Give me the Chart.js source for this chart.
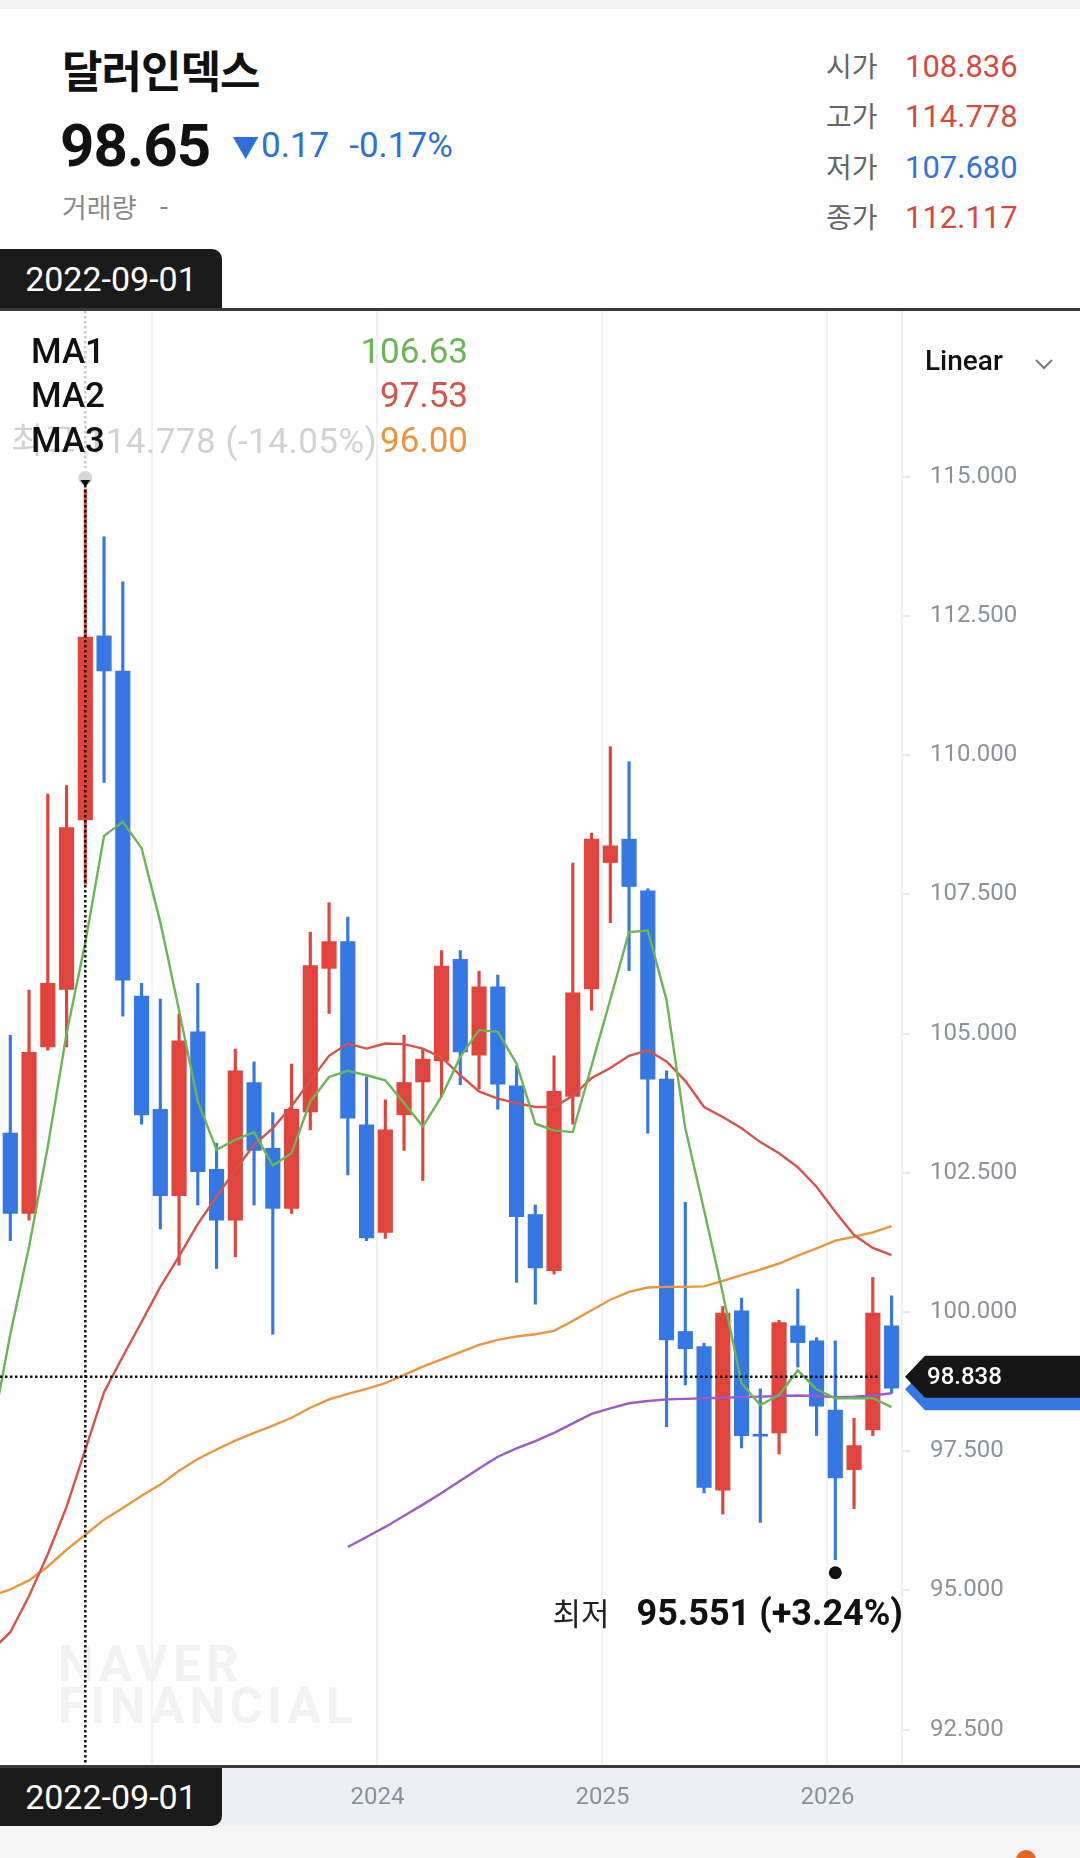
<!DOCTYPE html>
<html lang="ko">
<head>
<meta charset="utf-8">
<title>달러인덱스</title>
<script src="https://cdn.jsdelivr.net/npm/chart.js@4.4.1/dist/chart.umd.min.js"></script>
<style>
  html, body { margin: 0; padding: 0; }
  body {
    width: 1080px; height: 1858px; position: relative; overflow: hidden; background: #fff;
    font-family: Roboto, "Noto Sans CJK KR", sans-serif; color: #111;
  }
  .abs { position: absolute; white-space: nowrap; }
  #topbar { left: 0; top: 0; width: 1080px; height: 9px; background: #f3f3f4; }
  #title { left: 62px; top: 47px; font-size: 44px; font-weight: 700; line-height: 1;
           font-family: "Noto Sans CJK KR", sans-serif; letter-spacing: -1px; }
  #price { left: 60px; top: 116px; font-size: 60px; font-weight: 700; line-height: 1; letter-spacing: -1px; }
  #change { left: 232px; top: 128px; font-size: 35px; line-height: 1; color: #2f6fd8; }
  #change .tri { font-size: 27px; margin-right: 2px; }
  #change .pct { margin-left: 20px; }
  #volume { left: 62px; top: 193px; font-size: 27px; line-height: 1; color: #8a8a8a;
            font-family: "Noto Sans CJK KR", sans-serif; }
  .ohlc { left: 826px; font-size: 31px; line-height: 30px; }
  .ohlc .k { display: inline-block; width: 79px; color: #666; font-size: 28px;
             font-family: "Noto Sans CJK KR", sans-serif; }
  .tab { left: 0; width: 222px; background: #1b1b1b; color: #fff; font-size: 34px;
         text-align: center; }
  #tabTop { top: 249px; height: 60px; line-height: 60px; border-radius: 0 10px 0 0; }
  #tabBottom { top: 1768px; height: 58px; line-height: 58px; border-radius: 0 0 10px 0; z-index: 3; }
  #sepLine { left: 0; top: 308px; width: 1080px; height: 3px; background: #3a3a3a; }
  #wrap { position: absolute; left: 0; top: 311px; width: 1080px; height: 1515px; }
  .ma { left: 31px; width: 437px; font-size: 35px; line-height: 35px; display: flex;
        justify-content: space-between; z-index: 2; }
  .ma .n { font-weight: 500; }
  #linear { left: 925px; top: 346px; font-size: 28px; line-height: 30px; font-weight: 500; }
  #chev { left: 1034px; top: 358px; }
  #footer { left: 0; top: 1826px; width: 1080px; height: 32px; background: #f5f5f6; }
  #dot { left: 1016px; top: 1850px; width: 20px; height: 20px; border-radius: 50%; background: #e5661f; }
</style>
</head>
<body>
<div id="topbar" class="abs"></div>
<div id="title" class="abs">달러인덱스</div>
<div id="price" class="abs"></div>
<div id="change" class="abs"></div>
<div id="volume" class="abs">거래량 &nbsp;&nbsp;-</div>
<div id="ohlcBox"></div>

<div id="tabTop" class="abs tab"></div>
<div id="sepLine" class="abs"></div>

<div id="wrap"><canvas id="chart"></canvas></div>

<div id="legendBox"></div>
<div id="linear" class="abs">Linear</div>
<svg id="chev" class="abs" width="20" height="12"><polyline points="2,2 10,10 18,2" fill="none" stroke="#777" stroke-width="2"/></svg>

<div id="tabBottom" class="abs tab"></div>
<div id="footer" class="abs"></div>
<div id="dot" class="abs"></div>

<script>
// monthly candles, index 0 = 2022-04 (off screen)
const months = [
  "2022-04","2022-05","2022-06","2022-07","2022-08","2022-09","2022-10","2022-11","2022-12",
  "2023-01","2023-02","2023-03","2023-04","2023-05","2023-06","2023-07","2023-08","2023-09","2023-10","2023-11","2023-12",
  "2024-01","2024-02","2024-03","2024-04","2024-05","2024-06","2024-07","2024-08","2024-09","2024-10","2024-11","2024-12",
  "2025-01","2025-02","2025-03","2025-04","2025-05","2025-06","2025-07","2025-08","2025-09","2025-10","2025-11","2025-12",
  "2026-01","2026-02","2026-03","2026-04"
];
const openP = [null,
  103.21, 101.77, 104.76, 105.79, 108.836, 112.14, 111.51, 105.67,
  103.64, 102.09, 105.03, 102.56, 101.65, 104.12, 102.94, 101.86, 103.59, 106.17, 106.65, 103.36,
  101.43, 103.54, 104.13, 104.51, 106.33, 104.61, 105.84, 104.06, 101.75, 100.74, 103.87, 105.80,
  108.07, 108.49, 107.56, 104.18, 99.65, 99.38, 96.80, 100.02, 97.80, 97.83, 99.75, 99.48,
  98.24, 97.17, 97.88, 99.75];
const highP = [null,
  104.97, 105.78, 109.30, 109.45, 114.778, 113.92, 113.11, 105.90,
  105.62, 105.35, 105.90, 103.03, 104.72, 104.49, 103.58, 104.45, 106.82, 107.35, 107.09, 104.22,
  103.81, 104.97, 104.73, 106.49, 106.49, 106.12, 106.05, 104.42, 101.92, 104.60, 108.06, 108.60,
  110.15, 109.88, 107.60, 104.33, 101.97, 99.44, 100.10, 100.25, 98.62, 99.85, 100.41, 99.54,
  99.48, 98.09, 100.62, 100.29];
const lowP = [null,
  101.28, 101.65, 104.70, 104.76, 107.68, 109.51, 105.31, 103.37,
  101.49, 100.84, 101.92, 100.78, 100.99, 101.92, 99.60, 101.77, 103.27, 105.36, 102.46, 101.28,
  101.32, 102.90, 102.36, 103.87, 104.08, 104.00, 103.64, 100.53, 100.14, 100.68, 103.37, 105.42,
  106.99, 106.13, 103.21, 97.94, 98.69, 96.75, 96.37, 97.56, 96.22, 97.45, 99.01, 97.78,
  95.551, 96.47, 97.78, 98.54];
const closeP = [null,
  101.77, 104.66, 105.90, 108.70, 112.117, 111.51, 105.96, 103.54,
  102.09, 104.87, 102.52, 101.65, 104.33, 102.90, 101.86, 103.64, 106.22, 106.65, 103.48, 101.33,
  103.27, 104.12, 104.54, 106.21, 104.67, 105.84, 104.09, 101.71, 100.79, 103.96, 105.73, 108.49,
  108.37, 107.64, 104.18, 99.50, 99.34, 96.85, 99.98, 97.78, 97.77, 99.81, 99.45, 98.31,
  97.02, 97.60, 99.98, 98.63];

// moving averages
const ma1 = [97.8,
  99.6, 101.17, 102.97, 105.0, 106.63, 108.55, 108.8, 108.33,
  107.0, 105.42, 103.78, 102.91, 103.09, 103.23, 102.63, 102.85, 103.78, 104.22, 104.33, 104.25,
  104.16, 103.75, 103.33, 103.87, 104.58, 105.06, 105.03, 104.46, 103.38, 103.26, 103.23, 104.42,
  105.61, 106.82, 106.85, 105.6, 103.3, 101.83, 100.33, 98.72, 98.33, 98.51, 98.95, 98.61,
  98.45, 98.45, 98.45, 98.29];
const ma2 = [93.92,
  94.25, 94.9, 95.65, 96.5, 97.53, 98.56, 99.2, 99.82,
  100.45, 101.0, 101.58, 102.07, 102.55, 103.0, 103.3, 103.7, 104.15, 104.6, 104.82, 104.73,
  104.82, 104.81, 104.73, 104.57, 104.25, 103.96, 103.83, 103.75, 103.68, 103.68, 103.88, 104.2,
  104.38, 104.6, 104.7, 104.5, 104.15, 103.68, 103.5, 103.3, 103.05, 102.85, 102.6, 102.25,
  101.8, 101.38, 101.15, 101.02];
const ma3 = [94.9,
  95.02, 95.18, 95.43, 95.73, 96.0, 96.27, 96.48, 96.7,
  96.9, 97.15, 97.36, 97.53, 97.69, 97.83, 97.96, 98.1, 98.28, 98.43, 98.53, 98.62,
  98.72, 98.87, 99.02, 99.15, 99.28, 99.41, 99.5, 99.56, 99.6, 99.66, 99.84, 100.03,
  100.22, 100.36, 100.44, 100.45, 100.45, 100.46, 100.56, 100.66, 100.76, 100.87, 101.01, 101.14,
  101.28, 101.35, 101.43, 101.54];
const ma4 = [null,
  null, null, null, null, null, null, null, null,
  null, null, null, null, null, null, null, null, null, null, 95.78, 95.96,
  96.14, 96.34, 96.54, 96.75, 96.97, 97.19, 97.4, 97.55, 97.68, 97.83, 98.0, 98.17,
  98.27, 98.36, 98.4, 98.43, 98.44, 98.45, 98.46, 98.47, 98.48, 98.49, 98.5, 98.49,
  98.47, 98.48, 98.5, 98.54];

const yTicks = [92.5, 95, 97.5, 100, 102.5, 105, 107.5, 110, 112.5, 115];
const yearLabels = ["2023", "2024", "2025", "2026"];

const lastPrice = 98.65;
const lastChange = -0.17;
const lastChangePct = -0.17;
const cursorIdx = 5;          // 2022-09
const cursorPrice = 98.838;
const lowIdx = 45;            // 2026-01

const RED = "#e0443c";
const BLUE = "#3577e3";
const MA_COLORS = ["#6cb556", "#d4544b", "#e8963f", "#9a5cc6"];

// ---- header ----
document.getElementById("price").textContent = lastPrice.toFixed(2);
document.getElementById("change").innerHTML =
  '<span class="tri">▼</span>' + Math.abs(lastChange).toFixed(2) +
  '<span class="pct">' + lastChangePct.toFixed(2) + "%</span>";

const prevClose = closeP[cursorIdx - 1];
const ohlcRows = [
  ["시가", openP[cursorIdx]], ["고가", highP[cursorIdx]],
  ["저가", lowP[cursorIdx]], ["종가", closeP[cursorIdx]]
];
const ohlcTops = [50, 100, 151, 201];
let html = "";
ohlcRows.forEach((r, i) => {
  const c = r[1] >= prevClose ? "#d24b43" : "#3472d6";
  html += '<div class="abs ohlc" style="top:' + ohlcTops[i] + 'px"><span class="k">' + r[0] +
          '</span><span style="color:' + c + '">' + r[1].toFixed(3) + "</span></div>";
});
document.getElementById("ohlcBox").innerHTML = html;

const tabText = months[cursorIdx] + "-01";
document.getElementById("tabTop").textContent = tabText;
document.getElementById("tabBottom").textContent = tabText;

const maVals = [ma1, ma2, ma3];
const legendTops = [334, 378, 423];
html = "";
maVals.forEach((arr, i) => {
  html += '<div class="abs ma" style="top:' + legendTops[i] + 'px"><span class="n">MA' + (i + 1) +
          '</span><span style="color:' + MA_COLORS[i] + '">' + arr[cursorIdx].toFixed(2) + "</span></div>";
});
document.getElementById("legendBox").innerHTML = html;

// ---- chart ----
const candleIdx = months.map((m, i) => i).filter(i => openP[i] != null);
const isUp = i => closeP[i] >= openP[i];

const bodies = candleIdx.map(i => ({ x: i, y: [openP[i], closeP[i]] }));
const wicks = candleIdx.map(i => ({ x: i, y: [lowP[i], highP[i]] }));
const line = arr => arr.map((v, i) => ({ x: i, y: v }));

const pxPerMonth = 18.75;
const xMin = 1 - 10.3 / pxPerMonth;
const xMax = xMin + 902 / pxPerMonth;

function pentagon(ctx, left, right, cy, h, color) {
  ctx.beginPath();
  ctx.moveTo(left, cy);
  ctx.lineTo(left + 20, cy - h / 2);
  ctx.lineTo(right, cy - h / 2);
  ctx.lineTo(right, cy + h / 2);
  ctx.lineTo(left + 20, cy + h / 2);
  ctx.closePath();
  ctx.fillStyle = color;
  ctx.fill();
}

const overlay = {
  id: "overlay",
  beforeDraw(chart) {
    const { ctx, chartArea: a, width, height } = chart;
    ctx.save();
    ctx.fillStyle = "#eceff3";
    ctx.fillRect(0, a.bottom, width, height - a.bottom);
    ctx.restore();
  },
  beforeDatasetsDraw(chart) {
    const { ctx } = chart;
    ctx.save();
    ctx.fillStyle = "#f1f2f4";
    ctx.font = "bold 50px Roboto";
    ctx.letterSpacing = "5px";
    ctx.textBaseline = "alphabetic";
    ctx.fillText("NAVER", 58, 1370);
    ctx.fillText("FINANCIAL", 58, 1412);
    ctx.restore();
  },
  afterDraw(chart) {
    const { ctx, chartArea: a, width } = chart;
    const xs = chart.scales.x, ys = chart.scales.y;
    ctx.save();

    // crosshair
    const cx = xs.getPixelForValue(cursorIdx);
    const yHigh = ys.getPixelForValue(highP[cursorIdx]);
    ctx.lineWidth = 2.5;
    ctx.setLineDash([2.5, 2.5]);
    ctx.strokeStyle = "#c9c9c9";
    ctx.beginPath(); ctx.moveTo(cx, a.top); ctx.lineTo(cx, yHigh - 18); ctx.stroke();
    ctx.strokeStyle = "#111";
    ctx.beginPath(); ctx.moveTo(cx, yHigh - 4); ctx.lineTo(cx, a.bottom); ctx.stroke();
    const cy = ys.getPixelForValue(cursorPrice);
    ctx.beginPath(); ctx.moveTo(a.left, cy); ctx.lineTo(a.right - 22, cy); ctx.stroke();
    ctx.setLineDash([]);

    // high marker
    ctx.fillStyle = "#d6d6d6";
    ctx.beginPath(); ctx.arc(cx, yHigh - 11, 7, 0, Math.PI * 2); ctx.fill();
    ctx.fillStyle = "#111";
    ctx.beginPath(); ctx.moveTo(cx - 5, yHigh - 9); ctx.lineTo(cx + 5, yHigh - 9); ctx.lineTo(cx, yHigh - 2); ctx.closePath(); ctx.fill();
    const hiPct = (lastPrice - highP[cursorIdx]) / highP[cursorIdx] * 100;
    ctx.font = '35px Roboto, "Noto Sans CJK KR"';
    ctx.letterSpacing = "0.5px";
    ctx.fillStyle = "#d2d2d2";
    ctx.textAlign = "right";
    ctx.textBaseline = "alphabetic";
    ctx.fillText("최고 " + highP[cursorIdx].toFixed(3) + " (" + hiPct.toFixed(2) + "%)", cx + 292, yHigh - 36);
    ctx.letterSpacing = "0px";

    // low marker
    const lx = xs.getPixelForValue(lowIdx);
    const ly = ys.getPixelForValue(lowP[lowIdx]);
    ctx.fillStyle = "#111";
    ctx.beginPath(); ctx.arc(lx, ly + 13, 6.5, 0, Math.PI * 2); ctx.fill();
    const loPct = (lastPrice - lowP[lowIdx]) / lowP[lowIdx] * 100;
    const loText = lowP[lowIdx].toFixed(3) + " (+" + loPct.toFixed(2) + "%)";
    ctx.font = "bold 36px Roboto";
    ctx.textAlign = "right";
    ctx.fillText(loText, a.right + 1, ly + 65);
    const w = ctx.measureText(loText).width;
    ctx.font = '31px "Noto Sans CJK KR"';
    ctx.fillStyle = "#222";
    ctx.fillText("최저", a.right + 1 - w - 27, ly + 65);

    // price tags on the axis
    pentagon(ctx, a.right + 3, width, ys.getPixelForValue(lastPrice) + 2, 42, BLUE);
    pentagon(ctx, a.right + 3, width, cy, 42, "#161616");
    ctx.font = "500 24px Roboto";
    ctx.fillStyle = "#fff";
    ctx.textAlign = "left";
    ctx.textBaseline = "middle";
    ctx.fillText(cursorPrice.toFixed(3), a.right + 25, cy + 1);

    // bottom axis line
    ctx.fillStyle = "#3a3a3a";
    ctx.fillRect(0, a.bottom - 1, width, 3);
    ctx.restore();
  }
};

Chart.defaults.font.family = 'Roboto, "Noto Sans CJK KR", sans-serif';

new Chart(document.getElementById("chart"), {
  type: "bar",
  data: {
    datasets: [
      { type: "line", data: line(ma1), borderColor: MA_COLORS[0], borderWidth: 2.4, pointRadius: 0, order: 0 },
      { type: "line", data: line(ma2), borderColor: MA_COLORS[1], borderWidth: 2.4, pointRadius: 0, order: 1 },
      { type: "line", data: line(ma3), borderColor: MA_COLORS[2], borderWidth: 2.4, pointRadius: 0, order: 2 },
      { type: "line", data: line(ma4), borderColor: MA_COLORS[3], borderWidth: 2.4, pointRadius: 0, order: 3, spanGaps: false },
      {
        type: "bar", data: bodies, grouped: false, barThickness: 14.5, minBarLength: 2, order: 4,
        backgroundColor: c => isUp(c.raw.x) ? RED : BLUE, borderWidth: 0
      },
      {
        type: "bar", data: wicks, grouped: false, barThickness: 2.5, order: 5,
        backgroundColor: c => isUp(c.raw.x) ? RED : BLUE, borderWidth: 0
      }
    ]
  },
  options: {
    responsive: true,
    maintainAspectRatio: false,
    animation: false,
    events: [],
    layout: { padding: 0 },
    plugins: { legend: { display: false }, tooltip: { enabled: false } },
    scales: {
      x: {
        type: "linear", min: xMin, max: xMax, offset: false,
        afterBuildTicks: s => {
          s.ticks = yearLabels.map(y => ({ value: months.indexOf(y + "-01") - 0.42 }));
        },
        afterFit: s => { s.height = 60; s.paddingLeft = 0; s.paddingRight = 0; },
        grid: { color: "#f0f2f5", lineWidth: 2, drawTicks: false, offset: false },
        border: { display: false },
        ticks: {
          padding: 18, color: "#8b929c", font: { size: 24 }, maxRotation: 0, autoSkip: false,
          callback: (v, i) => yearLabels[i]
        }
      },
      y: {
        position: "right", min: 91.847, max: 117.974,
        afterBuildTicks: s => { s.ticks = yTicks.map(v => ({ value: v })); },
        afterFit: s => { s.width = 178; s.paddingTop = 0; s.paddingBottom = 0; },
        grid: { drawOnChartArea: false, drawTicks: true, tickLength: 8, color: "#e6e8ec", lineWidth: 2 },
        border: { display: true, color: "#eef0f4", width: 2 },
        ticks: { padding: 20, color: "#8b929c", font: { size: 24 }, callback: v => v.toFixed(3) }
      }
    }
  },
  plugins: [overlay]
});
</script>
</body>
</html>
